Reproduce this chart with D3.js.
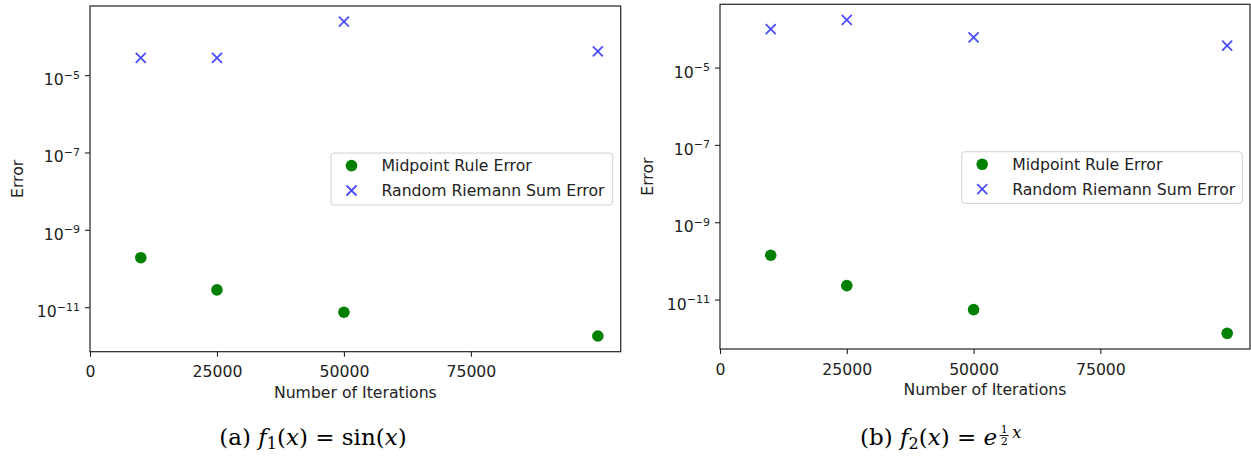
<!DOCTYPE html>
<html><head><meta charset="utf-8">
<script src="https://cdn.jsdelivr.net/npm/d3@7"></script>
<style>
html,body{margin:0;padding:0;background:#fff;}
svg{display:block;}
</style></head>
<body>
<svg id="chart" width="1251" height="461"></svg>
<script>
// ---- data ----
const iterations = [10000, 25000, 50000, 100000];
const midpointErrA = [1.9e-10, 2.8e-11, 7.4e-12, 1.8e-12];
const riemannErrA = [2.8e-5, 2.8e-5, 2.4e-4, 4.1e-5];
const midpointErrB = [1.4e-10, 2.3e-11, 5.5e-12, 1.34e-12];
const riemannErrB = [9.9e-5, 1.7e-4, 6.0e-5, 3.7e-5];
const xTicks = [0, 25000, 50000, 75000];
const yTickExps = [-5, -7, -9, -11];
const seriesNames = ["Midpoint Rule Error", "Random Riemann Sum Error"];
const xLabel = "Number of Iterations";
const yLabel = "Error";

const svg = d3.select("#chart");
const FONT = "'DejaVu Sans', sans-serif";
const FS = 15.7;

const panels = [
  {x0: 90, x1: 620.7, y0: 6, y1: 351.7, mid: midpointErrA, rr: riemannErrA,
   legend: {x: 331, y: 153, w: 281.7, h: 52}, ylabX: 17.5},
  {x0: 720, x1: 1250, y0: 4.3, y1: 349, mid: midpointErrB, rr: riemannErrB,
   legend: {x: 961.7, y: 151.7, w: 280.6, h: 51.6}, ylabX: 647.5}
];

panels.forEach(p => {
  const g = svg.append("g");
  const xmax = d3.max(iterations), xmin = d3.min(iterations);
  const x = d3.scaleLinear().domain([0, xmax + 0.05 * (xmax - xmin)]).range([p.x0, p.x1]);
  const all = p.mid.concat(p.rr).map(Math.log10);
  const lo = d3.min(all), hi = d3.max(all), m = 0.05 * (hi - lo);
  const y = d3.scaleLog().domain([Math.pow(10, lo - m), Math.pow(10, hi + m)]).range([p.y1, p.y0]);

  // frame
  g.append("rect").attr("x", p.x0).attr("y", p.y0)
    .attr("width", p.x1 - p.x0).attr("height", p.y1 - p.y0)
    .attr("fill", "none").attr("stroke", "#222").attr("stroke-width", 1.2);

  // x axis
  const xa = g.append("g").attr("transform", `translate(0,${p.y1})`)
    .call(d3.axisBottom(x).tickValues(xTicks).tickFormat(d3.format("d")).tickSize(5).tickPadding(6));
  xa.select(".domain").remove();
  xa.selectAll("line").attr("stroke", "#222").attr("stroke-width", 1.1);
  xa.selectAll("text").attr("font-family", FONT).attr("font-size", FS).attr("fill", "#222")
    .attr("dy", null).attr("y", 25.5);

  // y axis
  const ya = g.append("g").attr("transform", `translate(${p.x0},0)`)
    .call(d3.axisLeft(y).tickValues(yTickExps.map(e => Math.pow(10, e))).tickFormat("").tickSize(5));
  ya.select(".domain").remove();
  ya.selectAll("line").attr("stroke", "#222").attr("stroke-width", 1.1);
  ya.selectAll(".tick").each(function(d, i) {
    const t = d3.select(this).append("text")
      .attr("x", -10).attr("y", 9.5).attr("text-anchor", "end")
      .attr("font-family", FONT).attr("font-size", FS).attr("fill", "#222");
    t.append("tspan").text("10");
    t.append("tspan").attr("dy", -6.5).attr("font-size", 11).text("\u2212" + Math.abs(yTickExps[i]));
  });

  // axis labels
  g.append("text").attr("x", (p.x0 + p.x1) / 2).attr("y", p.y1 + 46)
    .attr("text-anchor", "middle").attr("font-family", FONT).attr("font-size", FS).attr("fill", "#222")
    .text(xLabel);
  g.append("text").attr("transform", `translate(${p.ylabX + 5.5},${(p.y0 + p.y1) / 2}) rotate(-90)`)
    .attr("text-anchor", "middle").attr("font-family", FONT).attr("font-size", FS).attr("fill", "#222")
    .text(yLabel);

  // midpoint points
  g.selectAll("circle.mid").data(iterations.map((it, i) => [it, p.mid[i]])).enter()
    .append("circle").attr("class", "mid")
    .attr("cx", d => x(d[0])).attr("cy", d => y(d[1])).attr("r", 5.8).attr("fill", "#008000");

  // riemann crosses
  const cs = 5;
  g.selectAll("path.rr").data(iterations.map((it, i) => [it, p.rr[i]])).enter()
    .append("path").attr("class", "rr")
    .attr("d", d => {
      const cx = x(d[0]), cy = y(d[1]);
      return `M${cx - cs},${cy - cs}L${cx + cs},${cy + cs}M${cx - cs},${cy + cs}L${cx + cs},${cy - cs}`;
    })
    .attr("stroke", "#0000ff").attr("stroke-opacity", 0.7).attr("stroke-width", 1.8).attr("fill", "none");

  // legend
  const L = p.legend;
  const lg = g.append("g");
  lg.append("rect").attr("x", L.x).attr("y", L.y).attr("width", L.w).attr("height", L.h)
    .attr("rx", 3).attr("fill", "#fff").attr("fill-opacity", 0.8)
    .attr("stroke", "#d0d0d0").attr("stroke-width", 1);
  const mx = L.x + 20.5, r1 = L.y + 12.6, r2 = L.y + 37.5;
  lg.append("circle").attr("cx", mx).attr("cy", r1).attr("r", 5.8).attr("fill", "#008000");
  lg.append("path")
    .attr("d", `M${mx - cs},${r2 - cs}L${mx + cs},${r2 + cs}M${mx - cs},${r2 + cs}L${mx + cs},${r2 - cs}`)
    .attr("stroke", "#0000ff").attr("stroke-opacity", 0.7).attr("stroke-width", 1.8);
  [r1, r2].forEach((ry, i) => {
    lg.append("text").attr("x", L.x + 50.5).attr("y", ry + 5.5)
      .attr("font-family", FONT).attr("font-size", FS).attr("fill", "#222").text(seriesNames[i]);
  });
});

// captions
const SERIF = "'DejaVu Serif', 'Liberation Serif', serif";
const CFS = 23;
const SUB = 16;
const capA = svg.append("text").attr("x", 313).attr("y", 445).attr("text-anchor", "middle")
  .attr("font-family", SERIF).attr("font-size", CFS).attr("fill", "#000");
capA.append("tspan").text("(a) ");
capA.append("tspan").attr("font-style", "italic").text("f");
capA.append("tspan").attr("font-size", SUB).attr("dy", 4).text("1");
capA.append("tspan").attr("dy", -4).text("(");
capA.append("tspan").attr("font-style", "italic").text("x");
capA.append("tspan").text(") = sin(");
capA.append("tspan").attr("font-style", "italic").text("x");
capA.append("tspan").text(")");

const capB = svg.append("text").attr("x", 860).attr("y", 445)
  .attr("font-family", SERIF).attr("font-size", CFS).attr("fill", "#000");
capB.append("tspan").text("(b) ");
capB.append("tspan").attr("font-style", "italic").text("f");
capB.append("tspan").attr("font-size", SUB).attr("dy", 4).text("2");
capB.append("tspan").attr("dy", -4).text("(");
capB.append("tspan").attr("font-style", "italic").text("x");
capB.append("tspan").text(") = ");
capB.append("tspan").attr("font-style", "italic").text("e");
const wB = capB.node().getComputedTextLength();
const fx = 860 + wB + 7;
svg.append("text").attr("x", fx).attr("y", 433).attr("text-anchor", "middle")
  .attr("font-family", SERIF).attr("font-size", 11).text("1");
svg.append("line").attr("x1", fx - 4.5).attr("x2", fx + 4.5).attr("y1", 435.5).attr("y2", 435.5)
  .attr("stroke", "#000").attr("stroke-width", 0.9);
svg.append("text").attr("x", fx).attr("y", 445).attr("text-anchor", "middle")
  .attr("font-family", SERIF).attr("font-size", 11).text("2");
svg.append("text").attr("x", fx + 8).attr("y", 438)
  .attr("font-family", SERIF).attr("font-size", 16).attr("font-style", "italic").text("x");
</script>
</body></html>
